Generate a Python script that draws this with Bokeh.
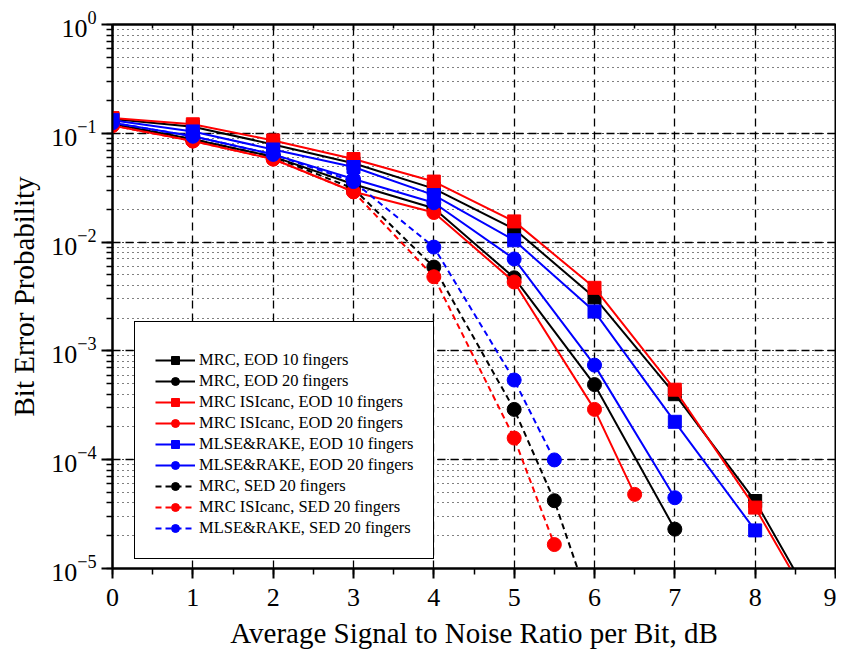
from bokeh.plotting import figure
from bokeh.models import LogTicker, SingleIntervalTicker, LinearAxis, Range1d
from bokeh.embed import file_html
from bokeh.resources import INLINE

FONT = "Liberation Serif"

# ---- data (Eb/N0 in dB, BER) ----
x_mrc_eod10 = [0, 1, 2, 3, 4, 5, 6, 7, 8, 9]
y_mrc_eod10 = [0.135, 0.115, 0.079, 0.053, 0.031, 0.0132, 0.0031, 0.00040, 0.0000417, 0.0000021]

x_mrc_eod20 = [0, 1, 2, 3, 4, 5, 6, 7]
y_mrc_eod20 = [0.122, 0.088, 0.061, 0.034, 0.0205, 0.0047, 0.00049, 0.000023]

x_isi_eod10 = [0, 1, 2, 3, 4, 5, 6, 7, 8, 9]
y_isi_eod10 = [0.138, 0.121, 0.086, 0.058, 0.036, 0.0155, 0.0038, 0.00044, 0.0000363, 0.0000019]

x_isi_eod20 = [0, 1, 2, 3, 4, 5, 6, 6.5]
y_isi_eod20 = [0.118, 0.085, 0.058, 0.029, 0.0187, 0.0043, 0.00029, 0.000048]

x_mlse_eod10 = [0, 1, 2, 3, 4, 5, 6, 7, 8]
y_mlse_eod10 = [0.132, 0.104, 0.071, 0.049, 0.027, 0.0104, 0.0023, 0.000223, 0.0000224]

x_mlse_eod20 = [0, 1, 2, 3, 4, 5, 6, 7]
y_mlse_eod20 = [0.125, 0.094, 0.064, 0.038, 0.023, 0.0070, 0.00074, 0.0000447]

x_mrc_sed20 = [0, 1, 2, 3, 4, 5, 5.5, 6]
y_mrc_sed20 = [0.122, 0.088, 0.061, 0.031, 0.0059, 0.00029, 0.000042, 0.0000035]

x_isi_sed20 = [0, 1, 2, 3, 4, 5, 5.5]
y_isi_sed20 = [0.118, 0.085, 0.058, 0.029, 0.0048, 0.000158, 0.0000166]

x_mlse_sed20 = [0, 1, 2, 3, 4, 5, 5.5]
y_mlse_sed20 = [0.125, 0.094, 0.064, 0.036, 0.0090, 0.00054, 0.0000995]

series = [
    ("MRC, EOD 10 fingers", x_mrc_eod10, y_mrc_eod10, "black", "square", "solid"),
    ("MRC, EOD 20 fingers", x_mrc_eod20, y_mrc_eod20, "black", "circle", "solid"),
    ("MRC ISIcanc, EOD 10 fingers", x_isi_eod10, y_isi_eod10, "red", "square", "solid"),
    ("MRC ISIcanc, EOD 20 fingers", x_isi_eod20, y_isi_eod20, "red", "circle", "solid"),
    ("MLSE&RAKE, EOD 10 fingers", x_mlse_eod10, y_mlse_eod10, "blue", "square", "solid"),
    ("MLSE&RAKE, EOD 20 fingers", x_mlse_eod20, y_mlse_eod20, "blue", "circle", "solid"),
    ("MRC, SED 20 fingers", x_mrc_sed20, y_mrc_sed20, "black", "circle", "6 4"),
    ("MRC ISIcanc, SED 20 fingers", x_isi_sed20, y_isi_sed20, "red", "circle", "6 4"),
    ("MLSE&RAKE, SED 20 fingers", x_mlse_sed20, y_mlse_sed20, "blue", "circle", "6 4"),
]

p = figure(width=836, height=651, y_axis_type="log",
           x_range=Range1d(0, 9), y_range=Range1d(1e-5, 1),
           output_backend="svg", toolbar_location=None,
           min_border_left=112, min_border_right=1, min_border_top=24,
           min_border_bottom=82)

p.outline_line_color = "black"
p.outline_line_width = 2

# tickers
xt = SingleIntervalTicker(interval=1, num_minor_ticks=2)
yt = LogTicker(num_minor_ticks=10, desired_num_ticks=6)
p.xaxis.ticker = xt
p.xgrid.ticker = xt
p.yaxis.ticker = yt
p.ygrid.ticker = yt

# grid
for g in (p.xgrid, p.ygrid):
    g.grid_line_color = "black"
    g.grid_line_dash = "8 5"
    g.grid_line_width = 1.3
p.ygrid.minor_grid_line_color = "black"
p.ygrid.minor_grid_line_dash = "1 4"
p.ygrid.minor_grid_line_width = 1

# axes styling
for ax in (p.xaxis[0], p.yaxis[0]):
    ax.axis_line_width = 2
    ax.axis_line_color = "black"
    ax.major_tick_line_width = 2
    ax.minor_tick_line_width = 1.5
    ax.major_tick_line_color = "black"
    ax.minor_tick_line_color = "black"
    ax.major_tick_in = 0
    ax.minor_tick_in = 0
    ax.major_label_text_font = FONT
    ax.major_label_text_font_size = "26px"
    ax.major_label_text_color = "black"
    ax.axis_label_text_font = FONT
    ax.axis_label_text_font_size = "29px"
    ax.axis_label_text_font_style = "normal"
    ax.axis_label_text_color = "black"

p.xaxis.major_tick_out = 10
p.xaxis.minor_tick_out = 6
p.yaxis.major_tick_out = 11
p.yaxis.minor_tick_out = 6
p.xaxis.major_label_standoff = 10
p.xaxis.axis_label_standoff = 8
p.yaxis.major_label_standoff = 5
p.yaxis.axis_label_standoff = 8
p.xaxis.axis_label = "Average Signal to Noise Ratio per Bit, dB"
p.yaxis.axis_label = "Bit Error Probability"

top = LinearAxis(ticker=xt, axis_line_width=2, major_tick_in=6, major_tick_out=0,
                 minor_tick_in=4, minor_tick_out=0, major_label_text_font_size="0px",
                 major_tick_line_width=1.5, minor_tick_line_width=1.5)
top.major_label_text_alpha = 0
p.add_layout(top, "above")

# series
for label, xs, ys, color, marker, dash in series:
    p.line(xs, ys, line_color=color, line_width=2, line_dash=dash, legend_label=label)
    size = 13 if marker == "square" else 14
    p.scatter(xs, ys, marker=marker, size=size, fill_color=color, line_color=color,
              legend_label=label)

lg = p.legend[0]
lg.location = (22, 9)
lg.border_line_color = "black"
lg.border_line_width = 1
lg.border_line_alpha = 1
lg.background_fill_alpha = 1
lg.title = " "
lg.title_text_font_size = "6px"
lg.title_standoff = 2
lg.label_text_font = FONT
lg.label_text_font_size = "16.5px"
lg.label_text_color = "black"
lg.glyph_width = 40
lg.glyph_height = 20
lg.label_height = 20
lg.label_standoff = 4
lg.spacing = 1
lg.padding = 20
lg.margin = 0

open("out.html", "w").write(file_html(p, INLINE))
